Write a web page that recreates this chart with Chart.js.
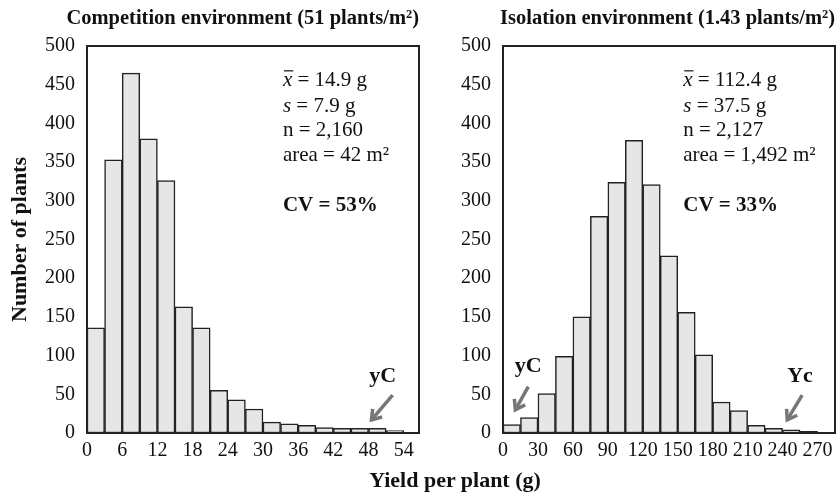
<!DOCTYPE html>
<html>
<head>
<meta charset="utf-8">
<script src="https://cdn.jsdelivr.net/npm/chart.js@4.4.0/dist/chart.umd.min.js"></script>
<style>
  body { margin: 0; background: #fff; width: 839px; height: 492px; position: relative; overflow: hidden;
         font-family: 'Liberation Serif', 'DejaVu Serif', serif; }
  #gauche { position: absolute; left: 0; top: 0; }
  #droite { position: absolute; left: 420px; top: 0; }
  #titreX { position: absolute; left: 305px; width: 300px; top: 467px; text-align: center;
            font-weight: bold; font-size: 22px; line-height: 26px; color: #111; }
</style>
</head>
<body>
<canvas id="gauche" width="424" height="492"></canvas>
<canvas id="droite" width="419" height="492"></canvas>
<div id="titreX">Yield per plant (g)</div>
<script>
// --- DONNÉES ---
// bornes inférieures des classes (g)
const classesCompetition = [0, 3, 6, 9, 12, 15, 18, 21, 24, 27, 30, 33, 36, 39, 42, 45, 48, 51];
const effectifsCompetition = [136, 353, 465, 380, 326, 163, 136, 55, 43, 31, 14, 12, 10, 7, 6, 6, 6, 3];
const largeurCompetition = 3;

const classesIsolement = [0, 15, 30, 45, 60, 75, 90, 105, 120, 135, 150, 165, 180, 195, 210, 225, 240, 255];
const effectifsIsolement = [11, 20, 51, 99, 150, 280, 324, 378, 321, 229, 156, 101, 40, 29, 10, 6, 4, 2];
const largeurIsolement = 15;

const titreCompetition = 'Competition environment (51 plants/m\u00B2)';
const titreIsolement = 'Isolation environment (1.43 plants/m\u00B2)';

// moyenne, écart-type, n, surface, CV
const statsCompetition = ['14.9 g', '7.9 g', '2,160', '42 m\u00B2', '53%'];
const statsIsolement = ['112.4 g', '37.5 g', '2,127', '1,492 m\u00B2', '33%'];

// flèches : [texte, x pointe, y pointe, x queue, y queue, x texte, y texte] en unités des axes
const flechesCompetition = [['yC', 48.5, 17, 52.1, 49, 50.4, 73]];
const flechesIsolement = [['yC', 10.6, 30, 21.7, 60, 21.7, 86], ['Yc', 244, 17, 256.8, 49, 255, 73]];

const SERIF = "'Liberation Serif', 'DejaVu Serif', serif";
const NOIR = '#111';
Chart.defaults.font.family = SERIF;
Chart.defaults.color = NOIR;

// --- PLUGIN : cadre, statistiques et flèches ---
const annotations = {
    id: 'annotations',
    afterDatasetsDraw(chart, args, opts) {
        const ctx = chart.ctx;
        const a = chart.chartArea;
        const sx = chart.scales.x, sy = chart.scales.y;
        ctx.save();
        ctx.strokeStyle = '#222';
        ctx.lineWidth = 2;
        ctx.strokeRect(a.left, a.top, a.right - a.left, a.bottom - a.top);

        // statistiques
        ctx.fillStyle = NOIR;
        ctx.textBaseline = 'middle';
        ctx.textAlign = 'left';
        const x0 = sx.getPixelForValue(opts.xTexte);
        const ys = [455, 422.5, 390.5, 358, 293.5].map(v => sy.getPixelForValue(v));
        const norm = '21px ' + SERIF, ital = 'italic 21px ' + SERIF, gras = 'bold 21px ' + SERIF;
        const lignes = [
            [{ t: 'x', f: ital, barre: true }, { t: ' = ' + opts.stats[0], f: norm }],
            [{ t: 's', f: ital }, { t: ' = ' + opts.stats[1], f: norm }],
            [{ t: 'n = ' + opts.stats[2], f: norm }],
            [{ t: 'area = ' + opts.stats[3], f: norm }],
            [{ t: 'CV = ' + opts.stats[4], f: gras }]
        ];
        lignes.forEach((morceaux, i) => {
            let cx = x0;
            morceaux.forEach(m => {
                ctx.font = m.f;
                ctx.fillText(m.t, cx, ys[i]);
                const w = ctx.measureText(m.t).width;
                if (m.barre) {
                    ctx.lineWidth = 1.2;
                    ctx.strokeStyle = NOIR;
                    ctx.beginPath(); ctx.moveTo(cx + 1, ys[i] - 10); ctx.lineTo(cx + w + 1, ys[i] - 10); ctx.stroke();
                }
                cx += w;
            });
        });

        // flèches grises
        opts.fleches.forEach(f => {
            const [txt, xp, yp, xq, yq, xt, yt] = f;
            const px = sx.getPixelForValue(xp), py = sy.getPixelForValue(yp);
            const qx = sx.getPixelForValue(xq), qy = sy.getPixelForValue(yq);
            ctx.strokeStyle = '#777';
            ctx.lineWidth = 3.5;
            ctx.lineCap = 'butt';
            ctx.beginPath(); ctx.moveTo(qx, qy); ctx.lineTo(px, py); ctx.stroke();
            const ang = Math.atan2(qy - py, qx - px);
            ctx.beginPath();
            ctx.moveTo(px + 11 * Math.cos(ang + 0.6), py + 11 * Math.sin(ang + 0.6));
            ctx.lineTo(px, py);
            ctx.lineTo(px + 11 * Math.cos(ang - 0.6), py + 11 * Math.sin(ang - 0.6));
            ctx.stroke();
            ctx.fillStyle = NOIR;
            ctx.font = 'bold 22px ' + SERIF;
            ctx.textAlign = 'center';
            ctx.fillText(txt, sx.getPixelForValue(xt), sy.getPixelForValue(yt));
            ctx.textAlign = 'left';
        });
        ctx.restore();
    }
};

// --- CONSTRUCTION D'UN HISTOGRAMME ---
function histogramme(canvas, classes, effectifs, largeur, xMax, pasX, titre, largeurAxeY, titreY, padDroite, annot) {
    const points = classes.map((c, i) => ({ x: c + largeur / 2, y: effectifs[i] }));
    return new Chart(canvas, {
        type: 'bar',
        data: {
            datasets: [{
                data: points,
                backgroundColor: '#e6e6e6',
                borderColor: '#222',
                borderWidth: 1.5,
                borderSkipped: false,
                barPercentage: 1,
                categoryPercentage: 1
            }]
        },
        options: {
            responsive: false,
            animation: false,
            devicePixelRatio: 1,
            layout: { padding: { left: 0, right: padDroite, top: 0, bottom: 0 } },
            plugins: {
                legend: { display: false },
                tooltip: { enabled: false },
                title: {
                    display: true, text: titre, align: 'end', color: NOIR,
                    font: { size: 20.5, weight: 'bold' }, padding: { top: 6, bottom: 15.4 }
                },
                annotations: annot
            },
            scales: {
                x: {
                    type: 'linear', min: 0, max: xMax, offset: false,
                    grid: { display: false, drawTicks: false },
                    border: { display: true, color: '#222', width: 2 },
                    ticks: { stepSize: pasX, includeBounds: false, padding: 6, maxRotation: 0, autoSkip: false,
                             font: { size: 20 }, color: NOIR },
                    afterFit(s) { s.height = 59; }
                },
                y: {
                    min: 0, max: 500,
                    grid: { display: false, drawTicks: false },
                    border: { display: true, color: '#222', width: 2 },
                    ticks: { stepSize: 50, padding: 12, font: { size: 20 }, color: NOIR },
                    title: { display: !!titreY, text: titreY, color: NOIR,
                             font: { size: 22, weight: 'bold' }, padding: { top: 7, bottom: 0 } },
                    afterFit(s) { s.width = largeurAxeY; }
                }
            }
        },
        plugins: [annotations]
    });
}

histogramme(document.getElementById('gauche'), classesCompetition, effectifsCompetition, largeurCompetition,
    56.6, 6, titreCompetition, 87, 'Number of plants', 5,
    { stats: statsCompetition, xTexte: 33.4, fleches: flechesCompetition });

histogramme(document.getElementById('droite'), classesIsolement, effectifsIsolement, largeurIsolement,
    285, 30, titreIsolement, 83, '', 4,
    { stats: statsIsolement, xTexte: 154.7, fleches: flechesIsolement });
</script>
</body>
</html>
